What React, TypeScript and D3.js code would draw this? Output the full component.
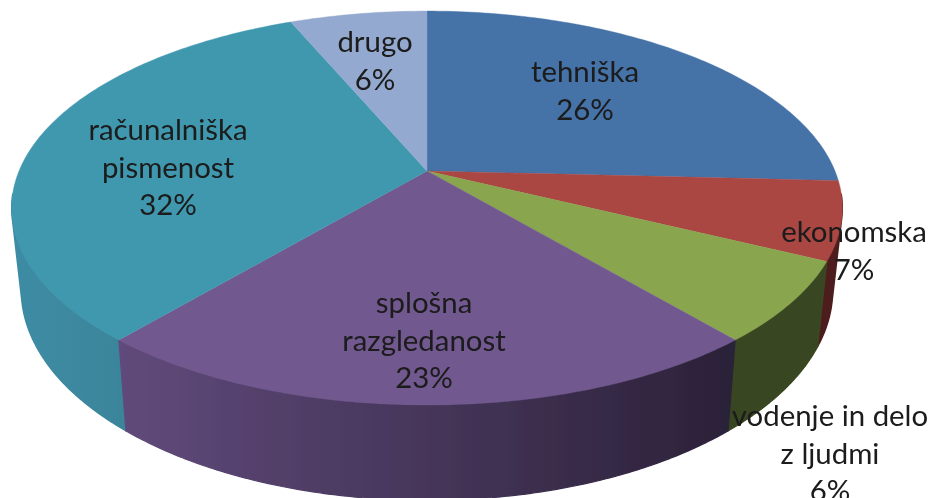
import React from "react";
import * as d3 from "d3";

const categories = ["tehniška", "ekonomska", "vodenje in delo z ljudmi", "splošna razgledanost", "računalniška pismenost", "drugo"];
const shares = [25.8, 6.4, 6.6, 22.4, 32.4, 6.4];
const percentLabels = ["26%", "7%", "6%", "23%", "32%", "6%"];
const topColors = ["#4572a7", "#aa4643", "#89a54e", "#71588f", "#4198af", "#93a9cf"];
const sideLeft = ["#2f4d73", "#4d1f1e", "#394620", "#604a7b", "#3e8ca4", "#64749a"];
const sideRight = ["#2f4d73", "#4d1f1e", "#394620", "#2b2138", "#367a8c", "#64749a"];
const labelLines = [["tehniška"], ["ekonomska"], ["vodenje in delo", "z ljudmi"], ["splošna", "razgledanost"], ["računalniška", "pismenost"], ["drugo"]];
const labelAnchors: [number, number][] = [[585, 71], [854, 231], [830, 415], [424, 302], [168, 129], [375, 41]];

const W = 931, H = 498;
const cx = 427;
const topV = 171, R = 408, S = 190, K = -0.188;
const botV = 250, botSX = 0.977, botSY = 1.07;
const lineGap = 37.8;

function project(a: number, bottom: boolean): [number, number] {
  const X = Math.sin(a), Y = -Math.cos(a);
  const d = 1 + K * Y;
  const px = (R * X) / d, py = (S * Y) / d;
  return bottom ? [cx + px * botSX, botV + py * botSY] : [cx + px, topV + py];
}

export default function App() {
  const arcs = d3.pie<number>().sort(null).value((d) => d)(shares);
  const line = d3.line<[number, number]>();
  const slices = arcs.map((arc, i) => {
    const n = Math.max(8, Math.round((arc.endAngle - arc.startAngle) * 60));
    const angles = d3.range(n + 1).map((k) => arc.startAngle + ((arc.endAngle - arc.startAngle) * k) / n);
    const top = angles.map((a) => project(a, false));
    const bot = angles.map((a) => project(a, true));
    const xs = [...top, ...bot].map((p) => p[0]);
    const meanY = d3.mean(angles, (a) => -Math.cos(a)) as number;
    const quads = d3
      .range(n)
      .filter((k) => -Math.cos(angles[k]) > 0.12 || -Math.cos(angles[k + 1]) > 0.12)
      .map((k) => line([top[k], top[k + 1], bot[k + 1], bot[k]])! + "Z")
      .join("");
    return {
      i, meanY,
      x0: d3.min(xs) as number, x1: d3.max(xs) as number,
      face: line([[cx, topV], ...top])! + "Z",
      side: quads,
    };
  });
  const ordered = slices.slice().sort((a, b) => a.meanY - b.meanY);
  return (
    <svg width={W} height={H} viewBox={`0 0 ${W} ${H}`} style={{ position: "absolute", left: 0, top: 0, background: "#fff" }}>
      <defs>
        {slices.map((s) => (
          <linearGradient key={s.i} id={`side${s.i}`} gradientUnits="userSpaceOnUse" x1={s.x0} x2={s.x1} y1={0} y2={0}>
            <stop offset="0" stopColor={sideLeft[s.i]} />
            <stop offset="1" stopColor={sideRight[s.i]} />
          </linearGradient>
        ))}
        <filter id="soft" x="-2%" y="-2%" width="104%" height="104%">
          <feGaussianBlur stdDeviation="0.5" />
        </filter>
      </defs>
      <g filter="url(#soft)">
        {ordered.map((s) => (
          <path key={s.i} d={s.side} fill={`url(#side${s.i})`} stroke={`url(#side${s.i})`} strokeWidth={1.2} />
        ))}
        {slices.map((s) => (
          <path key={s.i} d={s.face} fill={topColors[s.i]} stroke={topColors[s.i]} strokeWidth={0.4} />
        ))}
        <g fontFamily="Lato, sans-serif" fontSize={28} fill="#1a1a1a" textAnchor="middle">
          {categories.map((c, i) => {
            const lines = [...labelLines[i], percentLabels[i]];
            return (
              <g key={c}>
                {lines.map((t, j) => (
                  <text
                    key={j}
                    dominantBaseline="central"
                    transform={`translate(${labelAnchors[i][0]},${labelAnchors[i][1] + j * lineGap}) scale(1.05,1)`}
                  >
                    {t}
                  </text>
                ))}
              </g>
            );
          })}
        </g>
      </g>
    </svg>
  );
}
